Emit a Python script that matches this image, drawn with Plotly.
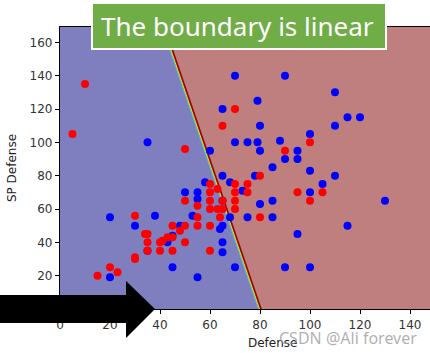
import numpy as np
import plotly.graph_objects as go

# ---- data ----
blue_defense = [35, 60, 70, 90, 110, 65, 79, 80, 110, 115, 120, 70, 75, 79, 88, 100, 80, 95, 90, 95,
                85, 100, 65, 78, 110, 105, 58, 68, 73, 100, 80, 85, 75, 85, 130, 115, 95, 70, 90, 100,
                50, 55, 55, 53, 68, 48, 64, 65, 45, 43, 65, 65, 45, 55, 20, 30, 38, 35, 20, 65]
blue_spdef = [100, 95, 140, 140, 130, 120, 125, 110, 110, 115, 115, 100, 100, 100, 101, 105, 95, 95, 90, 90,
              85, 83, 80, 80, 80, 75, 76, 76, 71, 70, 63, 65, 55, 55, 65, 50, 45, 25, 25, 25,
              70, 70, 66, 56, 55, 50, 48, 50, 44, 40, 40, 34, 25, 19, 55, 50, 56, 35, 19, 65]
red_defense = [10, 5, 50, 70, 65, 100, 90, 80, 75, 70, 70, 75, 70, 70, 95, 105, 100, 80, 60, 63,
               50, 55, 60, 65, 60, 63, 65, 55, 64, 45, 50, 55, 60, 50, 45, 60, 30, 34, 35, 35,
               35, 40, 41, 43, 40, 30, 30, 15, 20, 23, 48, 60, 45]
red_spdef = [135, 105, 96, 120, 110, 100, 95, 80, 75, 75, 70, 70, 65, 60, 70, 70, 65, 55, 75, 72,
             65, 62, 65, 65, 60, 60, 60, 55, 55, 50, 50, 50, 50, 40, 35, 35, 56, 45, 45, 40,
             35, 40, 41, 43, 35, 31, 30, 20, 25, 22, 47, 70, 43]

# linear decision boundary: w_def*Defense + w_sp*SPDefense + b = 0
w_def, w_sp, b0 = 1.0, 0.228, -80.0

x_ticks = [0, 20, 40, 60, 80, 100, 120, 140]
y_ticks = [20, 40, 60, 80, 100, 120, 140, 160]

# ---- decision region grid ----
gx = np.arange(0, 151, 1.0)
gy = np.arange(0, 172, 1.0)
GX, GY = np.meshgrid(gx, gy)
Z = (w_def * GX + w_sp * GY + b0 > 0).astype(float)

fig = go.Figure()
fig.add_trace(go.Heatmap(x=gx, y=gy, z=Z, zsmooth=False, showscale=False,
                         colorscale=[[0, '#7f7fbf'], [1, '#bf7f7f']], hoverinfo='skip'))

# boundary edge lines
by = np.array([0, 172.0])
bx = (-b0 - w_sp * by) / w_def
fig.add_trace(go.Scatter(x=bx - 0.6, y=by, mode='lines', line=dict(color='#33ccdd', width=1), hoverinfo='skip'))
fig.add_trace(go.Scatter(x=bx - 0.2, y=by, mode='lines', line=dict(color='#e8e000', width=1), hoverinfo='skip'))
fig.add_trace(go.Scatter(x=bx + 0.4, y=by, mode='lines', line=dict(color='#a00000', width=1.6), hoverinfo='skip'))

fig.add_trace(go.Scatter(x=blue_defense, y=blue_spdef, mode='markers',
                         marker=dict(color='#0000ff', size=8, line=dict(width=0))))
fig.add_trace(go.Scatter(x=red_defense, y=red_spdef, mode='markers',
                         marker=dict(color='#ff0000', size=8, line=dict(width=0))))

L, R, T, B = 60, 430, 27, 309
def px(x):
    return (x - L) / (R - L)
def py(y):
    return (B - y) / (B - T)

fig.update_layout(
    width=430, height=353,
    margin=dict(l=60, r=0, t=27, b=44),
    paper_bgcolor='white', plot_bgcolor='white',
    showlegend=False,
    font=dict(family='DejaVu Sans', size=12, color='#222'),
    xaxis=dict(range=[0, 148], tickvals=x_ticks, ticks='outside', ticklen=4, tickcolor='black',
               showline=True, linecolor='black', linewidth=1.2, mirror=True, showgrid=False, zeroline=False,
               tickfont=dict(size=12, color='#333')),
    yaxis=dict(range=[0, 169.2], tickvals=y_ticks, ticks='outside', ticklen=4, tickcolor='black',
               showline=True, linecolor='black', linewidth=1.2, showgrid=False, zeroline=False,
               tickfont=dict(size=12, color='#333'),
               title=dict(text='SP Defense', font=dict(size=12, color='#222'), standoff=10)),
)

# x axis title
fig.add_annotation(text='Defense', xref='paper', yref='paper', x=px(272), y=py(343),
                   xanchor='center', yanchor='middle',
                   showarrow=False, font=dict(size=12, color='#222'))
# watermark
fig.add_annotation(text='CSDN @Ali forever', xref='paper', yref='paper', x=px(348), y=py(338),
                   xanchor='center', yanchor='middle',
                   showarrow=False, font=dict(size=16, color='rgba(150,150,150,0.75)', family='Noto Sans'))

# title box
fig.add_shape(type='rect', xref='paper', yref='paper', x0=px(92), x1=px(386), y0=py(49), y1=py(3),
              fillcolor='#70ad47', line=dict(color='white', width=2), layer='above')
fig.add_annotation(text='The boundary is linear', xref='paper', yref='paper', x=px(237), y=py(26),
                   xanchor='center', yanchor='middle',
                   showarrow=False, font=dict(size=26, color='white', family='Noto Sans'))

# black arrow
pts = [(0, 295), (126, 295), (126, 281), (155, 309), (126, 338), (126, 323), (0, 323)]
path = 'M ' + ' L '.join(f'{px(a):.4f},{py(c):.4f}' for a, c in pts) + ' Z'
fig.add_shape(type='path', xref='paper', yref='paper', path=path, fillcolor='black',
              line=dict(color='black', width=0), layer='above')

fig.write_html('out.html')
